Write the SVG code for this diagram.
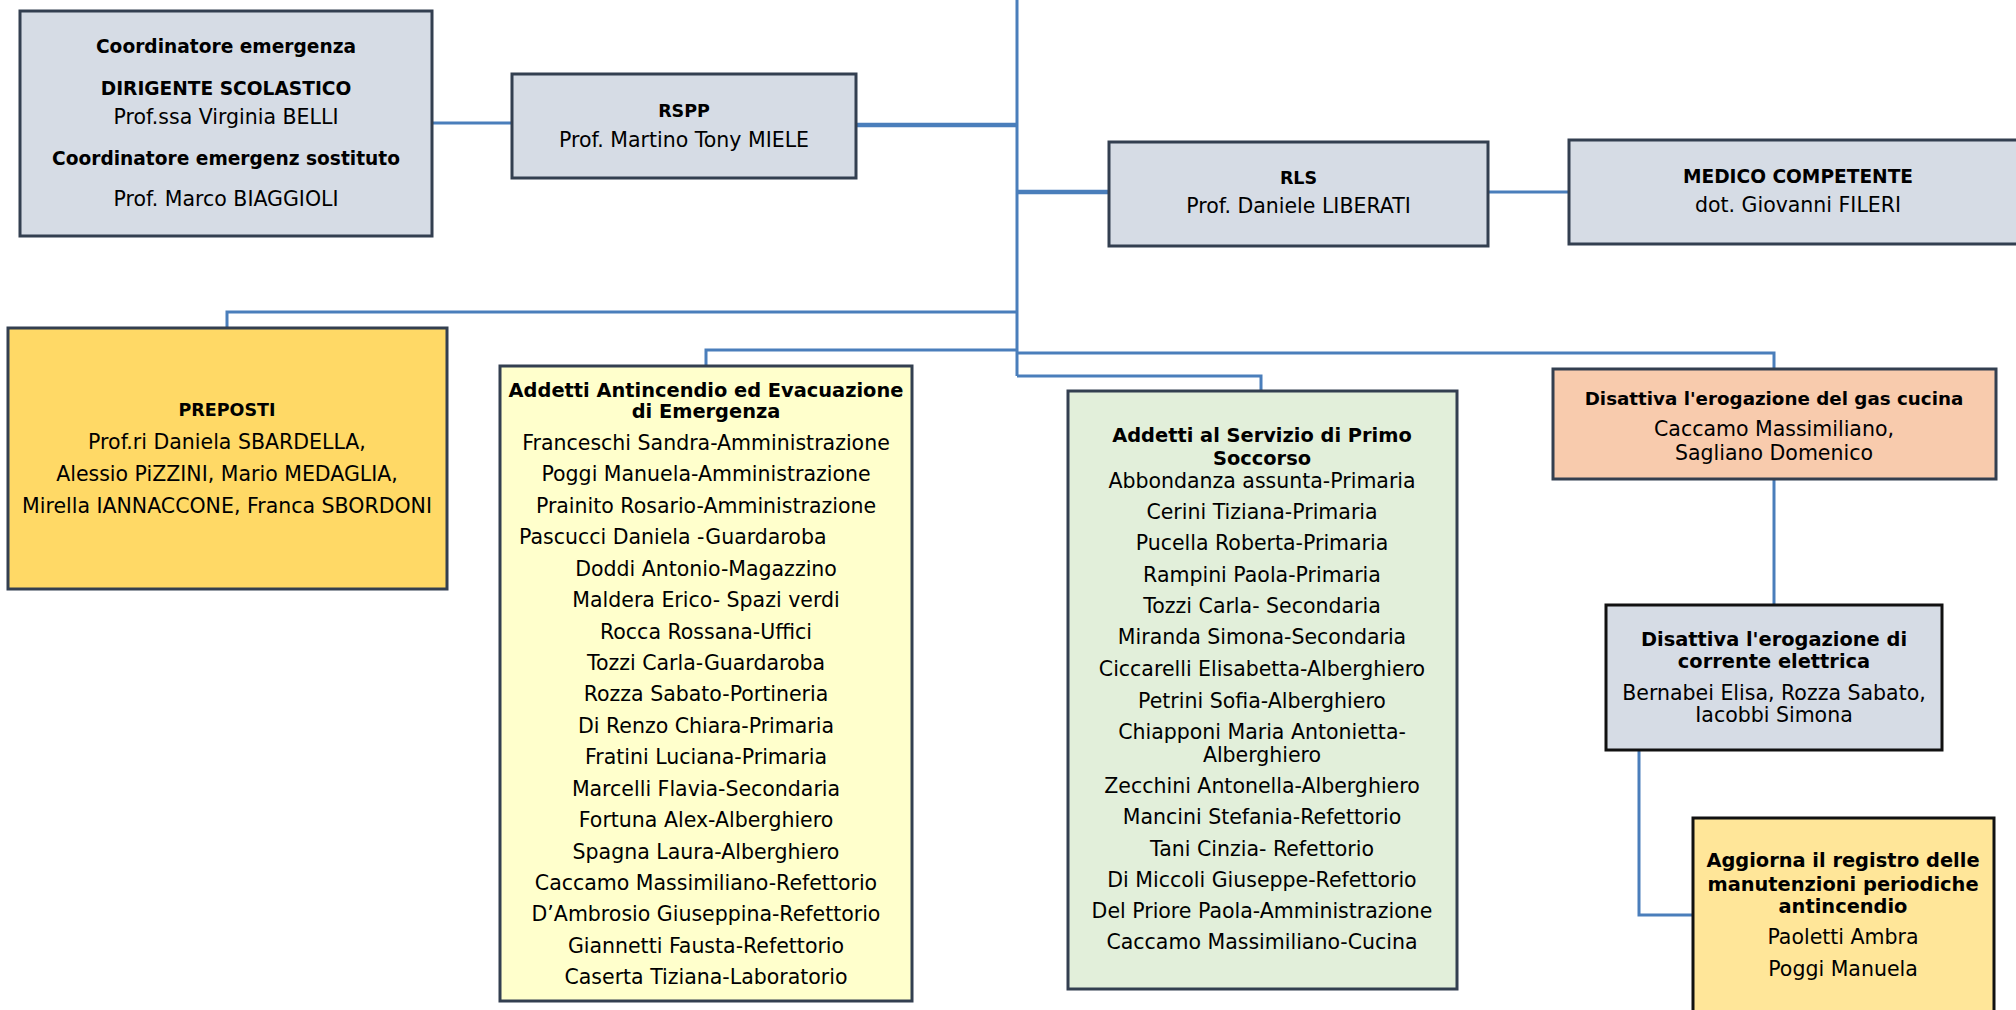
<svg xmlns="http://www.w3.org/2000/svg" width="2016" height="1010" viewBox="0 0 2016 1010">
<style>
.box{stroke:#333f50;stroke-width:3}
.blk{stroke:#111;stroke-width:3}
.gray{fill:#d6dce5}
text{font-family:"DejaVu Sans","Liberation Sans",sans-serif;fill:#000;text-anchor:middle}
.r{font-size:20.5px}
.b{font-size:18.6px;font-weight:bold}
.bw{font-size:19.4px}
.bc{font-size:17.5px}
.c{fill:none;stroke:#4a7ebb;stroke-width:3}
.ct{fill:none;stroke:#4a7ebb;stroke-width:4.5}
</style>
<rect width="2016" height="1010" fill="#fff"/>
<g id="connectors">
<path class="c" d="M1017 0V376"/>
<path class="c" d="M432 123H511"/>
<path class="ct" d="M856 125H1017"/>
<path class="ct" d="M1017 192H1108"/>
<path class="c" d="M1488 192H1568"/>
<path class="c" d="M1017 312H227V327"/>
<path class="c" d="M1017 350H706V365"/>
<path class="c" d="M1017 353H1774V368"/>
<path class="c" d="M1017 376H1261V390"/>
<path class="c" d="M1774 479V604"/>
<path class="c" d="M1639 750V915H1692"/>
</g>
<g id="coordinatore">
<rect class="box gray" x="20" y="11" width="412" height="225"/>
<text class="b" x="226" y="53">Coordinatore emergenza</text>
<text class="b" x="226" y="95">DIRIGENTE SCOLASTICO</text>
<text class="r" x="226" y="124">Prof.ssa Virginia BELLI</text>
<text class="b" x="226" y="165">Coordinatore emergenz sostituto</text>
<text class="r" x="226" y="205.5">Prof. Marco BIAGGIOLI</text>
</g>
<g id="rspp">
<rect class="box gray" x="512" y="74" width="344" height="104"/>
<text class="b bc" x="684" y="117">RSPP</text>
<text class="r" x="684" y="146.5">Prof. Martino Tony MIELE</text>
</g>
<g id="rls">
<rect class="box gray" x="1109" y="142" width="379" height="104"/>
<text class="b bc" x="1298.5" y="184">RLS</text>
<text class="r" x="1298.5" y="213">Prof. Daniele LIBERATI</text>
</g>
<g id="medico">
<rect class="box gray" x="1569" y="140" width="460" height="104"/>
<text class="b" x="1798" y="182.5">MEDICO COMPETENTE</text>
<text class="r" x="1798" y="212">dot. Giovanni FILERI</text>
</g>
<g id="preposti">
<rect class="box" fill="#ffd966" x="8" y="328" width="439" height="261"/>
<text class="b bc" x="227" y="416">PREPOSTI</text>
<text class="r" x="227" y="448.5">Prof.ri Daniela SBARDELLA,</text>
<text class="r" x="227" y="481">Alessio PiZZINI, Mario MEDAGLIA,</text>
<text class="r" x="227" y="513">Mirella IANNACCONE, Franca SBORDONI</text>
</g>
<g id="antincendio">
<rect class="box" fill="#ffffcc" x="500" y="366" width="412" height="635"/>
<text class="b bw" x="706" y="397">Addetti Antincendio ed Evacuazione</text>
<text class="b bw" x="706" y="418">di Emergenza</text>
<text class="r" x="706" y="450">Franceschi Sandra-Amministrazione</text>
<text class="r" x="706" y="481.4">Poggi Manuela-Amministrazione</text>
<text class="r" x="706" y="512.9">Prainito Rosario-Amministrazione</text>
<text class="r" x="519" y="544.3" style="text-anchor:start">Pascucci Daniela -Guardaroba</text>
<text class="r" x="706" y="575.7">Doddi Antonio-Magazzino</text>
<text class="r" x="706" y="607.2">Maldera Erico- Spazi verdi</text>
<text class="r" x="706" y="638.6">Rocca Rossana-Uffici</text>
<text class="r" x="706" y="670">Tozzi Carla-Guardaroba</text>
<text class="r" x="706" y="701.4">Rozza Sabato-Portineria</text>
<text class="r" x="706" y="732.9">Di Renzo Chiara-Primaria</text>
<text class="r" x="706" y="764.3">Fratini Luciana-Primaria</text>
<text class="r" x="706" y="795.7">Marcelli Flavia-Secondaria</text>
<text class="r" x="706" y="827.2">Fortuna Alex-Alberghiero</text>
<text class="r" x="706" y="858.6">Spagna Laura-Alberghiero</text>
<text class="r" x="706" y="890">Caccamo Massimiliano-Refettorio</text>
<text class="r" x="706" y="921.4">D’Ambrosio Giuseppina-Refettorio</text>
<text class="r" x="706" y="952.9">Giannetti Fausta-Refettorio</text>
<text class="r" x="706" y="984.3">Caserta Tiziana-Laboratorio</text>
</g>
<g id="primosoccorso">
<rect class="box" fill="#e2efda" x="1068" y="391" width="389" height="598"/>
<text class="b bw" x="1262" y="441.5">Addetti al Servizio di Primo</text>
<text class="b bw" x="1262" y="465">Soccorso</text>
<text class="r" x="1262" y="487.5">Abbondanza assunta-Primaria</text>
<text class="r" x="1262" y="519">Cerini Tiziana-Primaria</text>
<text class="r" x="1262" y="550">Pucella Roberta-Primaria</text>
<text class="r" x="1262" y="581.5">Rampini Paola-Primaria</text>
<text class="r" x="1262" y="612.7">Tozzi Carla- Secondaria</text>
<text class="r" x="1262" y="644.3">Miranda Simona-Secondaria</text>
<text class="r" x="1262" y="675.7">Ciccarelli Elisabetta-Alberghiero</text>
<text class="r" x="1262" y="707.5">Petrini Sofia-Alberghiero</text>
<text class="r" x="1262" y="739">Chiapponi Maria Antonietta-</text>
<text class="r" x="1262" y="761.5">Alberghiero</text>
<text class="r" x="1262" y="792.7">Zecchini Antonella-Alberghiero</text>
<text class="r" x="1262" y="824.3">Mancini Stefania-Refettorio</text>
<text class="r" x="1262" y="855.7">Tani Cinzia- Refettorio</text>
<text class="r" x="1262" y="886.7">Di Miccoli Giuseppe-Refettorio</text>
<text class="r" x="1262" y="918.3">Del Priore Paola-Amministrazione</text>
<text class="r" x="1262" y="949.3">Caccamo Massimiliano-Cucina</text>
</g>
<g id="gas">
<rect class="box" fill="#f8cbad" x="1553" y="369" width="443" height="110"/>
<text class="b" x="1774" y="405" style="font-size:18.3px">Disattiva l'erogazione del gas cucina</text>
<text class="r" x="1774" y="436">Caccamo Massimiliano,</text>
<text class="r" x="1774" y="460">Sagliano Domenico</text>
</g>
<g id="corrente">
<rect class="blk gray" x="1606" y="605" width="336" height="145"/>
<text class="b bw" x="1774" y="645.5">Disattiva l'erogazione di</text>
<text class="b bw" x="1774" y="668">corrente elettrica</text>
<text class="r" x="1774" y="700">Bernabei Elisa, Rozza Sabato,</text>
<text class="r" x="1774" y="721.5">Iacobbi Simona</text>
</g>
<g id="aggiorna">
<rect class="blk" fill="#ffe699" x="1693" y="818" width="301" height="200"/>
<text class="b bw" x="1843" y="867">Aggiorna il registro delle</text>
<text class="b bw" x="1843" y="890.5">manutenzioni periodiche</text>
<text class="b bw" x="1843" y="912.5">antincendio</text>
<text class="r" x="1843" y="944">Paoletti Ambra</text>
<text class="r" x="1843" y="975.5">Poggi Manuela</text>
</g>
</svg>
